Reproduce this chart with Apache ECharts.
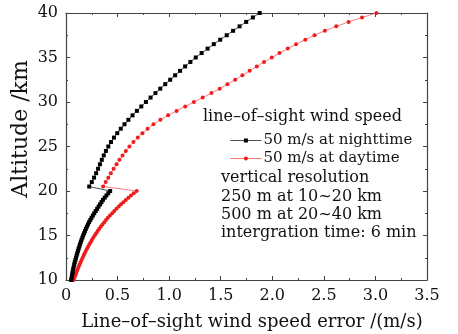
<!DOCTYPE html>
<html>
<head>
<meta charset="utf-8">
<script src="https://cdn.jsdelivr.net/npm/echarts@6/dist/echarts.min.js"></script>
<style>
  html, body { margin: 0; padding: 0; background: #ffffff; }
  #chart { width: 458px; height: 334px; }
</style>
</head>
<body>
<div id="chart"></div>
<script>
// Altitudes (km): 250 m steps from 10 to 20 km, then 500 m steps from 20.5 to 40 km
const lowAltitudes = [
  10.0, 10.25, 10.5, 10.75, 11.0, 11.25, 11.5, 11.75, 12.0, 12.25,
  12.5, 12.75, 13.0, 13.25, 13.5, 13.75, 14.0, 14.25, 14.5, 14.75,
  15.0, 15.25, 15.5, 15.75, 16.0, 16.25, 16.5, 16.75, 17.0, 17.25,
  17.5, 17.75, 18.0, 18.25, 18.5, 18.75, 19.0, 19.25, 19.5, 19.75, 20.0
];
const highAltitudes = [
  20.5, 21.0, 21.5, 22.0, 22.5, 23.0, 23.5, 24.0, 24.5, 25.0,
  25.5, 26.0, 26.5, 27.0, 27.5, 28.0, 28.5, 29.0, 29.5, 30.0,
  30.5, 31.0, 31.5, 32.0, 32.5, 33.0, 33.5, 34.0, 34.5, 35.0,
  35.5, 36.0, 36.5, 37.0, 37.5, 38.0, 38.5, 39.0, 39.5, 40.0
];

// Wind speed error (m/s), 50 m/s at nighttime
const nightLow = [
  0.050, 0.054, 0.058, 0.062, 0.066, 0.070, 0.075, 0.080, 0.085, 0.091,
  0.097, 0.103, 0.109, 0.115, 0.122, 0.129, 0.136, 0.143, 0.150, 0.158,
  0.166, 0.175, 0.184, 0.193, 0.203, 0.213, 0.224, 0.236, 0.248, 0.261,
  0.274, 0.288, 0.302, 0.316, 0.330, 0.344, 0.358, 0.375, 0.392, 0.410, 0.428
];
const nightHigh = [
  0.225, 0.250, 0.272, 0.292, 0.311, 0.329, 0.347, 0.366, 0.387, 0.410,
  0.436, 0.465, 0.497, 0.531, 0.567, 0.605, 0.645, 0.687, 0.730, 0.775,
  0.820, 0.867, 0.914, 0.962, 1.010, 1.058, 1.106, 1.155, 1.206, 1.258,
  1.315, 1.373, 1.433, 1.495, 1.558, 1.620, 1.683, 1.747, 1.812, 1.878
];

// Wind speed error (m/s), 50 m/s at daytime
const dayLow = [
  0.074, 0.082, 0.090, 0.098, 0.106, 0.114, 0.123, 0.132, 0.141, 0.151,
  0.161, 0.171, 0.181, 0.192, 0.203, 0.214, 0.226, 0.238, 0.251, 0.264,
  0.278, 0.292, 0.307, 0.322, 0.338, 0.354, 0.371, 0.388, 0.406, 0.426,
  0.448, 0.468, 0.489, 0.511, 0.533, 0.556, 0.580, 0.605, 0.630, 0.657, 0.686
];
const dayHigh = [
  0.360, 0.385, 0.410, 0.435, 0.462, 0.490, 0.518, 0.548, 0.580, 0.615,
  0.654, 0.696, 0.741, 0.791, 0.848, 0.915, 0.990, 1.072, 1.156, 1.240,
  1.325, 1.410, 1.490, 1.565, 1.640, 1.710, 1.780, 1.850, 1.920, 1.995,
  2.070, 2.150, 2.230, 2.320, 2.410, 2.510, 2.620, 2.740, 2.870, 3.010
];

const xTickLabels = ['0', '0.5', '1.0', '1.5', '2.0', '2.5', '3.0', '3.5'];
const yTickLabels = ['10', '15', '20', '25', '30', '35', '40'];

const seriesNames = ['50 m/s at nighttime', '50 m/s at daytime'];
const titleLine = 'line\u2013of\u2013sight wind speed';
const noteLines = [
  'vertical resolution',
  '250 m at 10~20 km',
  '500 m at 20~40 km',
  'intergration time: 6 min'
];
const xTitle = 'Line\u2013of\u2013sight wind speed error /(m/s)';
const yTitle = 'Altitude /km';

function toPairs(values, altitudes) {
  return values.map((v, i) => [v, altitudes[i]]);
}
const nightData = toPairs(nightLow, lowAltitudes).concat(toPairs(nightHigh, highAltitudes));
const dayData = toPairs(dayLow, lowAltitudes).concat(toPairs(dayHigh, highAltitudes));

const FONT = 'DejaVu Serif';
const frameColor = '#444';

function frameAxis(extra) {
  return Object.assign({
    type: 'value',
    axisLine: { show: true, onZero: false, lineStyle: { color: frameColor, width: 1.2 } },
    axisTick: { show: true, inside: true, length: 4, lineStyle: { color: frameColor, width: 1 } },
    minorTick: { show: true, splitNumber: 2, length: 2, lineStyle: { color: frameColor, width: 1 } },
    splitLine: { show: false },
    minorSplitLine: { show: false }
  }, extra);
}

const chart = echarts.init(document.getElementById('chart'), null, { renderer: 'canvas' });

chart.setOption({
  backgroundColor: '#ffffff',
  animation: false,
  grid: { left: 66, right: 31, top: 13, bottom: 54 },
  xAxis: [
    frameAxis({
      position: 'bottom', min: 0, max: 3.5, interval: 0.5,
      axisLabel: {
        margin: 8, fontSize: 16, fontFamily: FONT, color: '#111',
        formatter: (v) => xTickLabels[Math.round(v / 0.5)]
      }
    }),
    frameAxis({
      position: 'top', min: 0, max: 3.5, interval: 0.5,
      axisLabel: { show: false }
    })
  ],
  yAxis: [
    frameAxis({
      position: 'left', min: 10, max: 40, interval: 5,
      axisLabel: {
        margin: 8, fontSize: 16, fontFamily: FONT, color: '#111',
        formatter: (v) => yTickLabels[Math.round((v - 10) / 5)]
      }
    }),
    frameAxis({
      position: 'right', min: 10, max: 40, interval: 5,
      axisLabel: { show: false }
    })
  ],
  legend: {
    orient: 'vertical',
    left: 230,
    top: 133,
    itemWidth: 31,
    itemHeight: 5,
    itemGap: 3,
    padding: 0,
    data: seriesNames,
    lineStyle: { width: 0.8 },
    textStyle: { fontSize: 15, fontFamily: FONT, color: '#111', padding: [0, 0, 0, -3] }
  },
  series: [
    {
      name: seriesNames[0],
      type: 'line',
      data: nightData,
      symbol: 'rect',
      symbolSize: 4,
      itemStyle: { color: '#000000' },
      lineStyle: { color: '#222222', width: 0.8 },
      z: 3
    },
    {
      name: seriesNames[1],
      type: 'line',
      data: dayData,
      symbol: 'circle',
      symbolSize: 4,
      itemStyle: { color: '#ee1c1c' },
      lineStyle: { color: '#ff5a5a', width: 0.8 },
      z: 2
    }
  ],
  graphic: [
    {
      type: 'text', left: 203, top: 109,
      style: { text: titleLine, font: '16px "' + FONT + '"', fill: '#111' }
    },
    {
      type: 'text', left: 221, top: 169,
      style: { text: noteLines.join('\n'), font: '16px "' + FONT + '"', lineHeight: 18.3, fill: '#111' }
    },
    {
      type: 'text', x: 252, y: 322,
      style: { text: xTitle, font: '18px "' + FONT + '"', fill: '#111', align: 'center', verticalAlign: 'middle' }
    },
    {
      type: 'text', x: 21, y: 129, rotation: Math.PI / 2,
      style: { text: yTitle, font: '22px "' + FONT + '"', fill: '#111', align: 'center', verticalAlign: 'middle' }
    }
  ]
});
</script>
</body>
</html>
